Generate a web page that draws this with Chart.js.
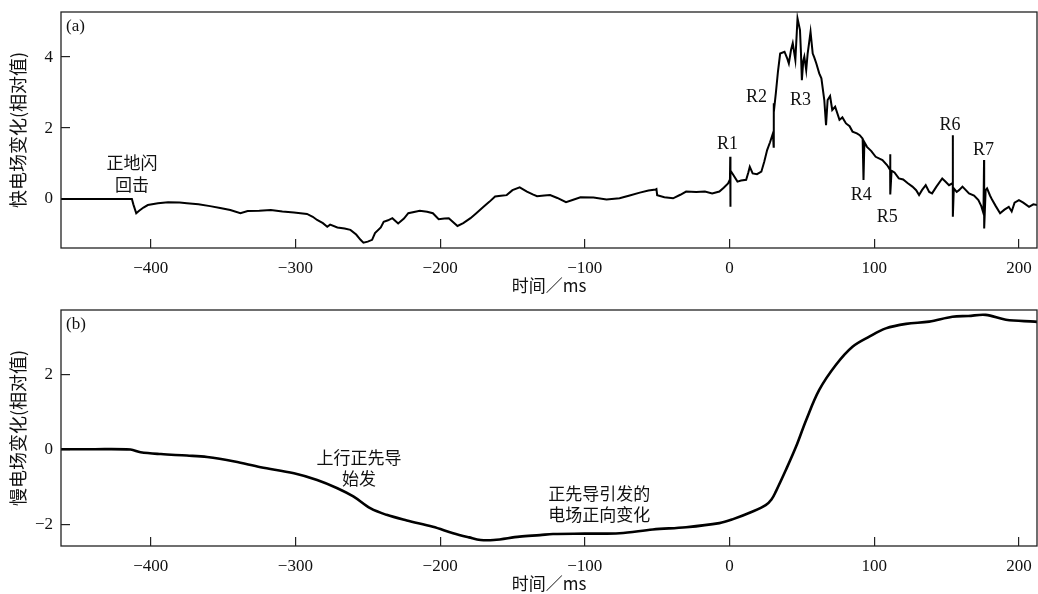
<!DOCTYPE html>
<html>
<head>
<meta charset="utf-8">
<script src="https://cdn.jsdelivr.net/npm/chart.js@4/dist/chart.umd.min.js"></script>
<style>
  html, body { margin: 0; padding: 0; background: #fff; }
  .box { position: absolute; left: 0; width: 1038px; height: 297px; }
  #boxA { top: 0; }
  #boxB { top: 298px; }
</style>
</head>
<body>
<div class="box" id="boxA"><canvas id="chartA"></canvas></div>
<div class="box" id="boxB"><canvas id="chartB"></canvas></div>
<script>
// 快电场 (a)
const fastTime = [-462, -440, -420, -413, -412, -410, -408, -405, -402, -395, -388, -380, -375, -367, -359, -352,
  -345, -338, -333, -325, -317, -309, -301, -292, -288, -285, -281, -278, -276, -271, -266, -262, -258, -255, -253,
  -250, -247, -245, -241, -239, -236, -233, -229, -225, -222, -214, -209, -205, -201, -197, -194, -188, -184, -179,
  -175, -170, -166, -162, -158, -154, -150, -145, -140, -136, -133, -128, -124, -119, -113, -108, -103, -94, -85,
  -76, -69, -62, -56, -51, -50.5, -50, -45, -39, -34, -30, -23, -17, -12, -7, -4, -1, 0.3, 0.5, 0.5, 0.8, 2, 5.5,
  8, 11.5, 13, 14, 16, 19, 22, 24, 26, 28, 30, 30.5, 30.6, 31, 32, 33.5, 35, 38, 40, 41, 42.5, 43.7, 45.5, 46.5,
  47, 48, 48.7, 49.3, 50, 51, 51.7, 53, 54, 55, 56, 57.5, 58.5, 60, 62, 63.5, 65.5, 66.7, 67.8, 69.5, 71, 73, 76,
  78, 80.5, 83, 85, 88, 90, 92, 92.6, 93.2, 95, 98, 101, 105.7, 109, 111, 111, 111.2, 112, 114, 117, 120, 123,
  126.4, 129, 131, 133, 135.6, 138, 140, 143, 147, 149, 151.7, 154.3, 154.3, 154.4, 155, 157, 158.6, 161, 165.5,
  169, 172, 174, 175.5, 175.9, 176, 177, 178, 180, 181.6, 184, 187, 190, 193, 195, 197, 200, 203, 207, 210, 213];
const fastValue = [0, 0, 0, 0, -0.15, -0.40, -0.33, -0.24, -0.17, -0.12, -0.09, -0.10, -0.12, -0.15, -0.20, -0.25,
  -0.31, -0.40, -0.34, -0.33, -0.31, -0.35, -0.38, -0.42, -0.50, -0.59, -0.68, -0.78, -0.72, -0.80, -0.83, -0.87,
  -1.00, -1.15, -1.23, -1.20, -1.15, -0.96, -0.80, -0.64, -0.60, -0.54, -0.69, -0.55, -0.40, -0.33, -0.36, -0.40,
  -0.57, -0.55, -0.54, -0.76, -0.68, -0.54, -0.40, -0.22, -0.08, 0.07, 0.09, 0.11, 0.25, 0.33, 0.21, 0.13, 0.08,
  0.10, 0.11, 0.03, -0.09, -0.02, 0.05, 0.04, -0.01, 0.02, 0.10, 0.18, 0.24, 0.27, 0.28, 0.11, 0.05, 0.02, 0.12,
  0.21, 0.20, 0.21, 0.16, 0.21, 0.32, 0.44, 0.55, 1.19, -0.22, 0.80, 0.72, 0.49, 0.52, 0.54, 0.75, 0.91, 0.72,
  0.70, 0.77, 1.05, 1.38, 1.60, 1.85, 1.47, 2.70, 2.60, 2.98, 3.60, 4.10, 4.15, 3.95, 3.82, 4.20, 4.39, 3.92, 4.70,
  5.09, 4.90, 4.76, 4.20, 3.35, 3.90, 4.01, 3.63, 4.10, 4.40, 4.71, 4.10, 4.00, 3.82, 3.54, 3.40, 2.79, 2.08, 2.79,
  2.90, 2.51, 2.60, 2.23, 2.30, 2.13, 2.05, 1.90, 1.85, 1.80, 1.70, 0.54, 1.60, 1.47, 1.35, 1.19, 1.10, 0.95, 0.82,
  1.26, 0.13, 0.80, 0.75, 0.58, 0.55, 0.45, 0.35, 0.25, 0.11, 0.25, 0.39, 0.20, 0.16, 0.35, 0.58, 0.50, 0.39, 0.45,
  1.80, -0.50, 0.30, 0.20, 0.25, 0.35, 0.16, 0.10, -0.03, -0.20, -0.40, 1.10, -0.83, 0.25, 0.30, 0.10, -0.03,
  -0.20, -0.40, -0.30, -0.22, -0.35, -0.10, -0.03, -0.10, -0.22, -0.15, -0.17];

// 慢电场 (b)
const slowTime = [-462, -440, -414, -407, -393, -375, -361, -342, -324, -301, -285, -271, -260, -248, -237, -223,
  -205, -191, -180, -172, -163, -145, -131, -122, -100, -76, -53, -30, -7, 2, 16, 25, 29, 32, 39, 46, 53, 62, 73.6,
  85, 96.6, 108, 122, 138, 154, 165, 177, 191, 211, 213];
const slowValue = [0.02, 0.02, 0.01, -0.06, -0.11, -0.15, -0.19, -0.31, -0.46, -0.62, -0.80, -1.02, -1.24, -1.56,
  -1.73, -1.88, -2.05, -2.22, -2.33, -2.40, -2.40, -2.31, -2.27, -2.24, -2.23, -2.22, -2.12, -2.06, -1.95, -1.85,
  -1.64, -1.47, -1.32, -1.11, -0.53, 0.09, 0.80, 1.60, 2.27, 2.75, 3.02, 3.24, 3.36, 3.42, 3.55, 3.57, 3.60, 3.47,
  3.42, 3.41];

const xTicks = [-400, -300, -200, -100, 0, 100, 200];
const yTicksA = [0, 2, 4];
const yTicksB = [-2, 0, 2];

// 标注 (data coordinates)
const notesA = [
  ['正地闪', -413, 1.04], ['回击', -413, 0.42],
  ['R1', -1.4, 1.55], ['R2', 18.6, 2.87], ['R3', 49, 2.79], ['R4', 91, 0.11],
  ['R5', 109, -0.5], ['R6', 152.4, 2.08], ['R7', 175.5, 1.38]
];
const notesB = [
  ['上行正先导', -256, -0.19], ['始发', -256, -0.75],
  ['正先导引发的', -90, -1.17], ['电场正向变化', -90, -1.73]
];

const serif = '"Liberation Serif", "DejaVu Serif", serif';
const cjk = '"Noto Sans CJK SC", sans-serif';

function pts(xs, ys) {
  return xs.map((x, i) => ({ x: x, y: ys[i] }));
}

const framePlugin = {
  id: 'frame',
  afterDraw(chart, args, opts) {
    const ctx = chart.ctx;
    const a = chart.chartArea;
    ctx.save();
    ctx.strokeStyle = '#222';
    ctx.lineWidth = 1.3;
    ctx.strokeRect(a.left, a.top, a.right - a.left, a.bottom - a.top);
    ctx.fillStyle = '#111';
    ctx.textBaseline = 'middle';
    ctx.textAlign = 'left';
    ctx.font = '17px ' + serif;
    ctx.fillText(opts.tag, a.left + 5, a.top + 15);
    ctx.textAlign = 'center';
    const xs = chart.scales.x, ys = chart.scales.y;
    opts.notes.forEach(n => {
      const isLatin = /^[A-Za-z0-9]+$/.test(n[0]);
      ctx.font = isLatin ? '18px ' + serif : '17px ' + cjk;
      ctx.fillText(n[0], xs.getPixelForValue(n[1]), ys.getPixelForValue(n[2]));
    });
    ctx.restore();
  }
};

function makeChart(id, xs, ys, yMin, yMax, yTicks, yTitle, tag, notes, width, tension) {
  return new Chart(document.getElementById(id), {
    type: 'line',
    data: {
      datasets: [{
        data: pts(xs, ys),
        borderColor: '#000',
        borderWidth: width,
        pointRadius: 0,
        tension: tension,
        fill: false
      }]
    },
    options: {
      responsive: true,
      maintainAspectRatio: false,
      animation: false,
      layout: { padding: { top: 12, right: 1, left: 0, bottom: 0 } },
      plugins: {
        legend: { display: false },
        tooltip: { enabled: false },
        frame: { tag: tag, notes: notes }
      },
      scales: {
        x: {
          type: 'linear',
          min: -462,
          max: 212.5,
          afterBuildTicks: s => { s.ticks = xTicks.map(v => ({ value: v })); },
          afterFit: s => { s.height = 49; s.paddingLeft = 0; s.paddingRight = 0; },
          grid: { drawOnChartArea: false, tickLength: -9, color: '#222', lineWidth: 1.2 },
          border: { display: false },
          ticks: {
            padding: 19,
            color: '#111',
            font: { family: serif, size: 17 },
            maxRotation: 0,
            callback: v => String(v).replace('-', '\u2212')
          },
          title: {
            display: true,
            text: '时间／ms',
            color: '#111',
            font: { family: cjk, size: 17 },
            padding: { top: 0, bottom: 1 }
          }
        },
        y: {
          min: yMin,
          max: yMax,
          afterBuildTicks: s => { s.ticks = yTicks.map(v => ({ value: v })); },
          afterFit: s => { s.width = 61; s.paddingTop = 0; s.paddingBottom = 0; },
          grid: { drawOnChartArea: false, tickLength: -9, color: '#222', lineWidth: 1.2 },
          border: { display: false },
          ticks: {
            padding: 17,
            color: '#111',
            font: { family: serif, size: 17 },
            callback: v => String(v).replace('-', '\u2212')
          },
          title: {
            display: true,
            text: yTitle,
            color: '#111',
            font: { family: cjk, size: 18 },
            padding: { top: 7, bottom: 0 }
          }
        }
      }
    },
    plugins: [framePlugin]
  });
}

makeChart('chartA', fastTime, fastValue, -1.38, 5.27, yTicksA, '快电场变化(相对值)', '(a)', notesA, 2, 0);
makeChart('chartB', slowTime, slowValue, -2.56, 3.73, yTicksB, '慢电场变化(相对值)', '(b)', notesB, 2.6, 0.35);
</script>
</body>
</html>
